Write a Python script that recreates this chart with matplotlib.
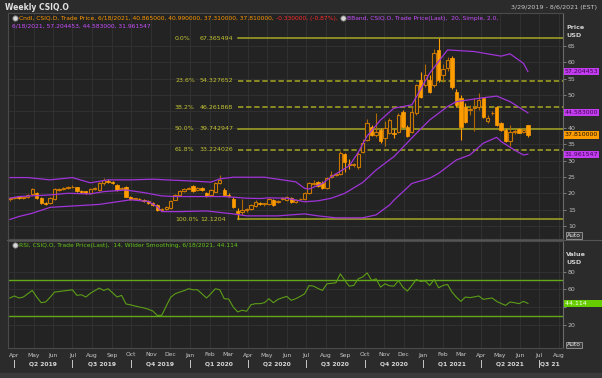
import numpy as np
import pandas as pd
import matplotlib
matplotlib.use('Agg')
import matplotlib.pyplot as plt
import matplotlib.dates as mdates
from matplotlib.lines import Line2D
from matplotlib.transforms import blended_transform_factory
from matplotlib import font_manager

W, H = 602, 378

# weekly candles, week starting 2019-03-25 (last one is the week of 6/18/2021)
first_week = '2019-03-25'
opens = [18.3, 18.6, 18.7, 18.6, 18.8, 19.7, 20.1, 18.6, 17.0, 16.9,
         18.2, 21.0, 21.3, 21.6, 21.8, 21.8, 20.6, 20.6, 20.0, 21.3,
         21.0, 23.0, 23.9, 23.4, 22.4, 21.2, 22.0, 18.9, 18.3, 18.4,
         18.0, 17.6, 17.0, 16.4, 14.9, 15.3, 15.5, 18.0, 19.6, 20.8,
         21.4, 22.1, 20.9, 21.5, 20.0, 19.5, 20.5, 23.0, 21.0, 19.6,
         18.2, 14.6, 14.3, 14.8, 15.1, 16.1, 16.9, 16.7, 16.6, 18.0,
         17.2, 18.4, 18.0, 18.7, 17.2, 18.1, 18.2, 20.0, 22.9, 23.3,
         23.2, 21.6, 25.1, 25.6, 25.9, 32.0, 28.8, 28.6, 28.0, 32.7,
         36.3, 40.3, 37.8, 39.3, 36.8, 38.4, 38.5, 38.8, 44.9, 40.3,
         38.8, 44.4, 54.6, 53.1, 54.6, 53.1, 63.8, 56.0, 58.3, 61.2,
         51.0, 49.0, 46.5, 45.3, 46.0, 46.5, 49.0, 42.0, 44.4, 46.3,
         41.4, 39.3, 36.0, 38.8, 39.5, 38.8, 40.865]
highs = [18.9, 19.0, 19.0, 19.0, 19.9, 21.6, 20.4, 18.8, 17.3, 18.8,
         21.5, 21.6, 22.0, 22.1, 22.6, 22.0, 20.9, 20.8, 21.7, 21.8,
         23.4, 24.8, 24.3, 23.7, 22.8, 22.0, 22.3, 19.3, 18.7, 18.6,
         18.3, 17.8, 17.2, 16.6, 15.6, 16.0, 18.0, 19.8, 21.0, 21.6,
         22.0, 22.4, 21.9, 21.8, 20.4, 21.3, 23.3, 25.5, 21.5, 20.2,
         18.9, 15.5, 18.2, 15.6, 16.7, 17.8, 17.3, 17.1, 18.6, 18.4,
         17.9, 18.9, 19.3, 19.0, 18.3, 18.6, 20.3, 23.3, 24.0, 23.7,
         23.6, 25.0, 26.7, 26.3, 32.8, 32.4, 30.5, 29.3, 32.5, 36.5,
         42.6, 41.0, 44.6, 40.0, 42.2, 43.0, 39.5, 44.5, 45.5, 41.0,
         46.4, 53.5, 57.1, 59.4, 56.0, 64.0, 67.365494, 59.6, 61.5, 61.8,
         52.0, 50.0, 47.5, 47.0, 49.0, 50.7, 49.5, 44.0, 45.0, 46.8,
         41.8, 39.8, 40.9, 39.6, 40.0, 39.8, 40.99]
lows = [17.6, 18.3, 18.3, 18.2, 18.6, 19.5, 18.3, 16.7, 16.3, 16.7,
        18.0, 20.6, 21.0, 21.2, 21.5, 20.4, 20.1, 19.9, 19.8, 21.0,
        20.8, 22.6, 23.1, 22.7, 20.8, 21.0, 18.8, 18.0, 18.0, 17.9,
        17.3, 16.8, 16.0, 14.5, 14.5, 15.0, 15.2, 17.8, 19.3, 20.3,
        21.2, 20.5, 20.6, 20.7, 19.0, 19.2, 20.3, 22.8, 19.4, 19.0,
        15.6, 12.1204, 13.5, 14.3, 14.8, 15.8, 16.3, 16.2, 16.3, 16.2,
        16.9, 18.0, 17.7, 17.0, 16.9, 17.9, 18.0, 19.8, 22.4, 22.0,
        21.4, 21.3, 24.8, 25.2, 25.6, 26.6, 27.5, 28.0, 27.5, 32.3,
        36.0, 37.5, 37.1, 35.5, 34.3, 38.0, 37.0, 38.5, 40.0, 37.2,
        38.5, 44.0, 49.0, 52.5, 50.5, 52.5, 54.0, 54.0, 57.5, 52.0,
        46.5, 36.3, 41.5, 44.0, 39.0, 45.5, 43.0, 41.5, 43.8, 40.5,
        39.0, 35.8, 34.4, 38.2, 38.3, 38.5, 37.31]
closes = [18.6, 18.7, 18.6, 18.7, 19.6, 21.2, 18.5, 17.0, 16.7, 18.6,
          21.2, 21.2, 21.7, 21.7, 22.0, 20.6, 20.5, 20.1, 21.4, 21.5,
          23.0, 24.0, 23.4, 23.0, 21.0, 21.6, 19.0, 18.3, 18.4, 18.2,
          17.6, 17.0, 16.3, 14.8, 15.2, 15.7, 17.7, 19.5, 20.7, 21.4,
          21.7, 20.7, 21.7, 20.9, 19.3, 21.0, 23.0, 24.2, 19.6, 19.3,
          15.8, 14.1, 14.9, 15.1, 16.4, 17.4, 16.7, 16.8, 18.2, 16.5,
          17.6, 18.6, 19.0, 17.3, 18.0, 18.3, 20.0, 23.0, 23.2, 22.3,
          21.6, 24.8, 25.6, 25.9, 32.2, 29.7, 28.5, 28.8, 32.0, 35.3,
          41.4, 37.8, 38.8, 36.0, 39.8, 42.4, 38.1, 43.9, 40.3, 37.5,
          44.9, 53.1, 49.5, 56.1, 51.0, 63.0, 54.6, 58.0, 60.7, 52.6,
          47.0, 40.3, 41.9, 45.6, 46.3, 48.5, 43.2, 43.0, 44.6, 40.9,
          39.3, 36.0, 38.8, 39.0, 38.5, 39.2, 37.81]

# Bollinger band (20, 2.0) at these week numbers
upper_week = [0, 4, 9, 14, 18, 22, 27, 32, 35, 40, 45, 47, 50, 57, 60, 64, 66,
              67, 70, 72, 76, 78, 80, 83, 86, 90, 94, 98, 104, 110, 112, 115, 116]
upper_val = [24.8, 24.8, 24.1, 24.8, 23.2, 24.1, 24.1, 24.3, 24.1, 23.8, 23.4,
             24.4, 24.9, 24.9, 24.3, 23.5, 21.5, 21.3, 23.0, 25.1, 28.4, 32.5,
             37.5, 42.4, 46.0, 47.0, 56.7, 63.8, 63.3, 61.9, 62.6, 59.7, 57.204453]
mid_week = [0, 2, 9, 13, 18, 21, 26, 30, 34, 37, 42, 48, 53, 56, 58, 62, 66, 69,
            72, 75, 79, 82, 85, 86, 91, 94, 98, 100, 105, 109, 112, 116]
mid_val = [18.5, 19.0, 19.5, 20.0, 19.8, 20.5, 21.0, 20.2, 19.2, 19.0, 19.0,
           19.0, 18.5, 18.4, 18.6, 18.5, 17.4, 17.7, 18.5, 20.0, 23.3, 27.1,
           30.2, 31.2, 38.3, 42.4, 46.5, 48.0, 49.0, 49.7, 48.0, 44.583]
lower_week = [0, 2, 5, 9, 20, 27, 31, 33, 34, 38, 44, 50, 53, 56, 60, 66, 69, 73,
              79, 82, 85, 86, 90, 94, 96, 100, 103, 106, 109, 110, 113, 115, 116]
lower_val = [12.0, 12.9, 13.9, 15.7, 16.6, 18.0, 17.5, 15.9, 14.4, 14.4, 14.6,
             13.7, 13.1, 13.1, 13.1, 13.7, 13.1, 12.5, 12.5, 13.4, 16.4, 17.9,
             23.0, 24.6, 26.1, 30.2, 31.7, 35.3, 37.1, 35.8, 33.2, 31.7, 31.961547]

rsi = [50.2, 52.5, 50.2, 51.3, 55.0, 58.8, 51.3, 44.9, 45.7, 51.0,
       56.9, 57.5, 58.2, 58.8, 59.5, 53.2, 53.9, 51.3, 55.5, 58.5,
       61.4, 58.8, 60.7, 56.0, 51.3, 53.2, 43.5, 42.5, 41.2, 40.0,
       39.0, 37.5, 35.5, 30.5, 30.7, 41.0, 51.0, 55.0, 56.9, 58.5,
       60.7, 59.5, 59.5, 55.0, 50.2, 55.0, 60.7, 59.5, 49.4, 49.0,
       40.1, 34.5, 36.4, 35.2, 42.7, 43.8, 43.8, 44.9, 49.4, 44.9,
       48.6, 50.5, 52.0, 47.6, 49.4, 52.0, 55.0, 64.3, 63.6, 61.0,
       58.8, 66.3, 66.8, 67.4, 77.5, 70.0, 63.6, 64.4, 71.9, 74.0,
       78.6, 70.0, 71.9, 62.5, 66.3, 64.0, 63.6, 70.0, 62.5, 58.0,
       64.4, 71.1, 68.9, 69.5, 64.4, 71.1, 61.8, 64.4, 65.5, 56.9,
       51.0, 46.4, 51.3, 50.6, 51.5, 52.5, 48.7, 49.5, 50.2, 46.4,
       44.0, 41.9, 45.7, 44.9, 43.8, 46.4, 44.114]

fib_pct = ['0.0%', '23.6%', '38.2%', '50.0%', '61.8%', '100.0%']
fib_val = [67.365494, 54.327652, 46.261868, 39.742947, 33.224026, 12.1204]
fib_lbl = ['67.365494', '54.327652', '46.261868', '39.742947', '33.224026', '12.1204']
fib_dashed = [False, True, True, False, True, False]
fib_start_week = 51

price_ticks = [10, 15, 20, 25, 30, 35, 40, 45, 50, 55, 60, 65]
rsi_ticks = [20, 40, 60, 80]
rsi_levels = [70, 30]

BG = '#2b2b2b'
PLOT = '#232323'
GRID = '#333333'
ORANGE = '#ff9c00'
HOLLOW = '#c87800'
PURPLE = '#a034d8'
FIB = '#a8a822'
GREEN = '#5c9e16'

names = {f.name for f in font_manager.fontManager.ttflist}
FONT = 'Liberation Sans Narrow' if 'Liberation Sans Narrow' in names else 'DejaVu Sans'
FS = 5.3 if FONT != 'DejaVu Sans' else 4.3
LFS = FS


def fx(px):
    return px / W


def fy(py):
    return 1 - py / H


dates = pd.date_range(first_week, periods=len(closes), freq='7D')
x = mdates.date2num(dates)
x0 = mdates.date2num(pd.Timestamp('2019-03-22'))
x1 = mdates.date2num(pd.Timestamp('2021-08-08'))

fig = plt.figure(figsize=(W / 100, H / 100), dpi=100, facecolor=BG)
renderer = fig.canvas.get_renderer()

ax1 = fig.add_axes([fx(8), fy(239), fx(563) - fx(8), (239 - 13) / H], facecolor=PLOT)
ax2 = fig.add_axes([fx(8), fy(348), fx(563) - fx(8), (348 - 241) / H], facecolor=PLOT)

months = pd.date_range('2019-04-01', '2021-08-01', freq='MS')
mx = mdates.date2num(months)

for ax, ticks, ylim in ((ax1, price_ticks, (6.03, 75.08)), (ax2, rsi_ticks, (-6.27, 114.6))):
    ax.set_xlim(x0, x1)
    ax.set_ylim(*ylim)
    ax.set_xticks(mx)
    ax.set_yticks(ticks)
    # labels hidden behind the value boxes in the original are left blank
    ax.set_yticklabels(['' if t in (45,) and ax is ax1 or t == 40 and ax is ax2 else str(t)
                        for t in ticks], family=FONT)
    ax.tick_params(axis='x', length=0, labelbottom=False)
    ax.yaxis.tick_right()
    ax.tick_params(axis='y', direction='out', length=2.5, width=0.6, color='#8a8a8a',
                   labelcolor='#bdbdbd', labelsize=FS + 0.2, pad=1)
    ax.grid(True, color=GRID, lw=0.6)
    ax.set_axisbelow(True)
    for s in ax.spines.values():
        s.set_color('#4a4a4a')
        s.set_linewidth(0.8)
    ax.spines['right'].set_color('#6a6a6a')

# fibonacci retracement
fx_start = x[fib_start_week]
for v, dashed in zip(fib_val, fib_dashed):
    ax1.plot([fx_start, x1], [v, v], color=FIB, lw=1.1,
             ls=(0, (3.5, 1.8)) if dashed else '-', zorder=1.5)
ax1.plot([fx_start, fx_start], [fib_val[-1], lows[fib_start_week] + 2.5], color=FIB, lw=1.0, zorder=1.5)
tr = blended_transform_factory(ax1.transAxes, ax1.transData)
for p, lbl, v in zip(fib_pct, fib_lbl, fib_val):
    ax1.text((175 - 8) / 555, v, p, transform=tr, color='#c4c434', fontsize=FS + 0.2,
             family=FONT, va='center', ha='left')
    ax1.text((200 - 8) / 555, v, lbl, transform=tr, color='#c4c434', fontsize=FS + 0.2,
             family=FONT, va='center', ha='left')

# candles
body_w = 5.2
for xi, o, h, l, c in zip(x, opens, highs, lows, closes):
    if c >= o:
        ax1.vlines(xi, l, h, color='#b06a00', lw=0.8, zorder=2)
        ax1.bar(xi, max(c - o, 0.2), bottom=o, width=body_w, color=PLOT,
                edgecolor=HOLLOW, lw=0.8, zorder=2.1)
    else:
        ax1.vlines(xi, l, h, color=ORANGE, lw=0.8, zorder=2)
        ax1.bar(xi, max(o - c, 0.2), bottom=c, width=body_w, color=ORANGE,
                edgecolor=ORANGE, lw=0.5, zorder=2.1)

# bollinger bands
ax1.plot(x[upper_week], upper_val, color=PURPLE, lw=0.9, zorder=3)
ax1.plot(x[mid_week], mid_val, color=PURPLE, lw=0.9, zorder=3)
ax1.plot(x[lower_week], lower_val, color=PURPLE, lw=0.9, zorder=3)

# rsi
for lv in rsi_levels:
    ax2.axhline(lv, color='#64a81a', lw=1.0, zorder=1.5)
ax2.plot(x, rsi, color=GREEN, lw=0.8, zorder=3)


# value boxes on the right axis
def box(ax, v, txt, fc, tc):
    t = blended_transform_factory(ax.transAxes, ax.transData)
    ax.text(1.003, v, txt, transform=t, fontsize=FS + 0.2, family=FONT, color=tc,
            va='center', ha='left', clip_on=False, zorder=10,
            bbox=dict(boxstyle='square,pad=0.18', fc=fc, ec='none'))


box(ax1, upper_val[-1], '57.204453', '#c43cf0', '#3a0650')
box(ax1, mid_val[-1], '44.583000', '#c43cf0', '#3a0650')
box(ax1, closes[-1], '37.810000', ORANGE, '#1a1000')
box(ax1, lower_val[-1], '31.961547', '#c43cf0', '#3a0650')
box(ax2, rsi[-1], '44.114       ', '#66cc00', '#ffffff')

# header texts
fig.text(fx(5), fy(7), 'Weekly CSIQ.O', color='#e0e0e0', fontsize=FS + 1.2,
         family=FONT, weight='bold', va='center')
fig.text(fx(597), fy(7), '3/29/2019 - 8/6/2021 (EST)', color='#c8c8c8', fontsize=FS + 0.3,
         family=FONT, va='center', ha='right')


def icon(px, py):
    fig.add_artist(Line2D([fx(px)], [fy(py)], transform=fig.transFigure, marker='o',
                          markersize=3.8, mfc='#d8d8d8', mec='#7a7a7a', mew=0.6))


def legend_line(px, py, parts):
    # pieces of one legend row, each drawn right after the previous one
    for txt, color in parts:
        if txt is None:
            icon(px + 3, py)
            px += 7
            continue
        t = fig.text(fx(px), fy(py), txt, color=color, fontsize=LFS, family=FONT, va='center')
        px = t.get_window_extent(renderer).x1 + 0.5


legend_line(12, 18.3, [(None, None),
                       ('Cndl, CSIQ.O, Trade Price, 6/18/2021, 40.865000, 40.990000, 37.310000, 37.810000, ', '#ff9900'),
                       ('-0.330000, (-0.87%), ', '#ff2a2a'),
                       (None, None),
                       ('BBand, CSIQ.O, Trade Price(Last),  20, Simple, 2.0,', '#c850ff')])
legend_line(12.5, 26.3, [('6/18/2021, 57.204453, 44.583000, 31.961547', '#c850ff')])
legend_line(12, 245.5, [(None, None),
                        ('RSI, CSIQ.O, Trade Price(Last),  14, Wilder Smoothing, 6/18/2021, 44.114', '#66c41a')])

for py, txt in [(27.3, 'Price'), (35.7, 'USD'), (254, 'Value'), (262.7, 'USD')]:
    fig.text(fx(566), fy(py), txt, color='#d0d0d0', fontsize=FS + 0.3, family=FONT,
             weight='bold', va='center')
for py in (235.5, 345):
    fig.text(fx(567), fy(py), 'Auto', color='#e8e8e8', fontsize=FS, family=FONT, va='center',
             bbox=dict(boxstyle='square,pad=0.12', fc='#3a3a3a', ec='#b0b0b0', lw=0.5))

# panel separator
fig.add_artist(Line2D([fx(7), fx(602)], [fy(239.8), fy(239.8)], transform=fig.transFigure,
                      color='#555555', lw=0.8))

# month and quarter labels
bt = blended_transform_factory(ax2.transData, fig.transFigure)
for d, m in zip(mx, months):
    ax2.text(d, fy(355), m.strftime('%b'), transform=bt, color='#c8c8c8', fontsize=FS,
             family=FONT, ha='center', va='center', clip_on=False)
quarters = pd.date_range('2019-04-01', '2021-07-01', freq='QS')
qx = mdates.date2num(quarters)
for d in qx:
    fig.add_artist(Line2D([d, d], [fy(359.5), fy(367)], transform=bt, color='#c8c8c8', lw=0.7))
for a, b, q in zip(qx[:-1], qx[1:], quarters[:-1]):
    ax2.text((a + b) / 2, fy(363.5), f'Q{q.quarter} {q.year}', transform=bt, color='#d8d8d8',
             fontsize=FS, family=FONT, weight='bold', ha='center', va='center', clip_on=False)
ax2.text(qx[-1] + 2, fy(363.5), 'Q3 21', transform=bt, color='#d8d8d8', fontsize=FS,
         family=FONT, weight='bold', ha='left', va='center', clip_on=False)

fig.add_artist(plt.Rectangle((0, 0), 1, fy(372.5), transform=fig.transFigure,
                             color='#3a3a3a', zorder=-1))

fig.savefig('out.png', dpi=100, facecolor=BG)
